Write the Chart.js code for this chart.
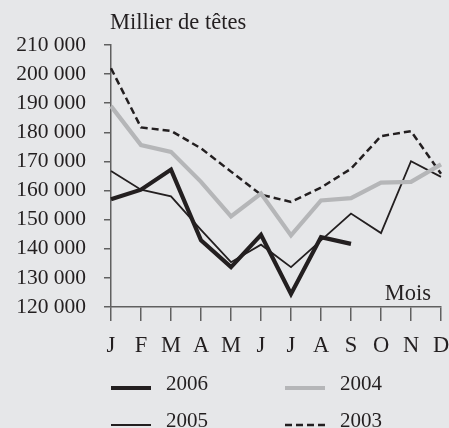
<!DOCTYPE html>
<html lang="fr">
<head>
  <meta charset="UTF-8">
  <title>Millier de têtes</title>
  <script src="https://cdn.jsdelivr.net/npm/chart.js"></script>
  <style>
    html, body { margin: 0; padding: 0; background: #e6e7e9; }
    #wrap { width: 449px; height: 428px; }
  </style>
</head>
<body>
  <div id="wrap"><canvas id="lineChart" width="449" height="428"></canvas></div>

  <script>
    const months = ["J", "F", "M", "A", "M", "J", "J", "A", "S", "O", "N", "D"];
    const yTicks = [120000, 130000, 140000, 150000, 160000, 170000, 180000, 190000, 200000, 210000];

    const v2006 = [157000, 160300, 167200, 142900, 133700, 144800, 124500, 144000, 141700, null, null, null];
    const v2004 = [189000, 175600, 173300, 163000, 151100, 159000, 144600, 156600, 157400, 162700, 163000, 169000];
    const v2005 = [166700, 160300, 158000, 146500, 135400, 141400, 133700, 142900, 152100, 145400, 170100, 164700];
    const v2003 = [202000, 181700, 180500, 174500, 166500, 158600, 156100, 161000, 167500, 178700, 180400, 165800];

    const serif = "'Liberation Serif', 'Times New Roman', serif";
    const ink = "#231f20";

    function fmt(v) {
      return String(v).replace(/\B(?=(\d{3})+(?!\d))/g, " ");
    }

    // background, titles and the two-column legend
    const decor = {
      id: "decor",
      beforeDraw(chart) {
        const c = chart.ctx;
        c.save();
        c.fillStyle = "#e6e7e9";
        c.fillRect(0, 0, chart.width, chart.height);
        c.restore();
      },
      afterDraw(chart) {
        const c = chart.ctx;
        const area = chart.chartArea;
        c.save();
        c.fillStyle = ink;
        c.font = "22.5px " + serif;
        c.textBaseline = "alphabetic";
        c.textAlign = "left";
        c.fillText("Millier de têtes", area.left - 1, 29);
        c.textAlign = "right";
        c.fillText("Mois", area.right - 10, 300);

        const slots = [[111, 388], [285, 388], [111, 425], [285, 425]];
        chart.data.datasets.forEach((ds, i) => {
          const [x, y] = slots[i];
          c.beginPath();
          c.strokeStyle = ds.borderColor;
          c.lineWidth = ds.borderWidth;
          c.setLineDash(ds.borderDash || []);
          c.moveTo(x, y);
          c.lineTo(x + 40, y);
          c.stroke();
          c.setLineDash([]);
          c.textAlign = "left";
          c.textBaseline = "middle";
          c.font = "21px " + serif;
          c.fillText(ds.label, x + 55, y - 4);
        });
        c.restore();
      }
    };

    const ctx = document.getElementById("lineChart").getContext("2d");
    const chart = new Chart(ctx, {
      type: "line",
      data: {
        labels: months,
        datasets: [
          { label: "2006", data: v2006, borderColor: ink, borderWidth: 4.2 },
          { label: "2004", data: v2004, borderColor: "#b5b6b8", borderWidth: 4.2 },
          { label: "2005", data: v2005, borderColor: ink, borderWidth: 1.8 },
          { label: "2003", data: v2003, borderColor: ink, borderWidth: 2.5, borderDash: [7, 4] }
        ]
      },
      options: {
        responsive: false,
        animation: false,
        spanGaps: false,
        elements: {
          point: { radius: 0, hoverRadius: 0 },
          line: { tension: 0, fill: false, borderJoinStyle: "miter" }
        },
        layout: { padding: { left: 0, top: 45, right: 8, bottom: 0 } },
        plugins: {
          legend: { display: false },
          tooltip: { enabled: false }
        },
        scales: {
          x: {
            offset: false,
            border: { color: "#606060", width: 1.5 },
            grid: { drawOnChartArea: false, color: "#606060", lineWidth: 1.5, tickLength: 14 },
            ticks: {
              color: ink,
              font: { family: serif, size: 22.5 },
              padding: 12,
              maxRotation: 0,
              autoSkip: false
            },
            afterFit(scale) {
              scale.height = 121;
              scale.paddingLeft = 0;
              scale.paddingRight = 0;
            }
          },
          y: {
            min: 120000,
            max: 210000,
            border: { color: "#606060", width: 1.5 },
            grid: { drawOnChartArea: false, color: "#606060", lineWidth: 1.5, tickLength: 7 },
            afterBuildTicks(scale) { scale.ticks = yTicks.map(v => ({ value: v })); },
            ticks: {
              color: ink,
              font: { family: serif, size: 21.5 },
              padding: 18,
              callback: v => fmt(v)
            },
            afterFit(scale) {
              scale.width = 111;
              scale.paddingTop = 0;
              scale.paddingBottom = 0;
            }
          }
        }
      },
      plugins: [decor]
    });
  </script>
</body>
</html>
